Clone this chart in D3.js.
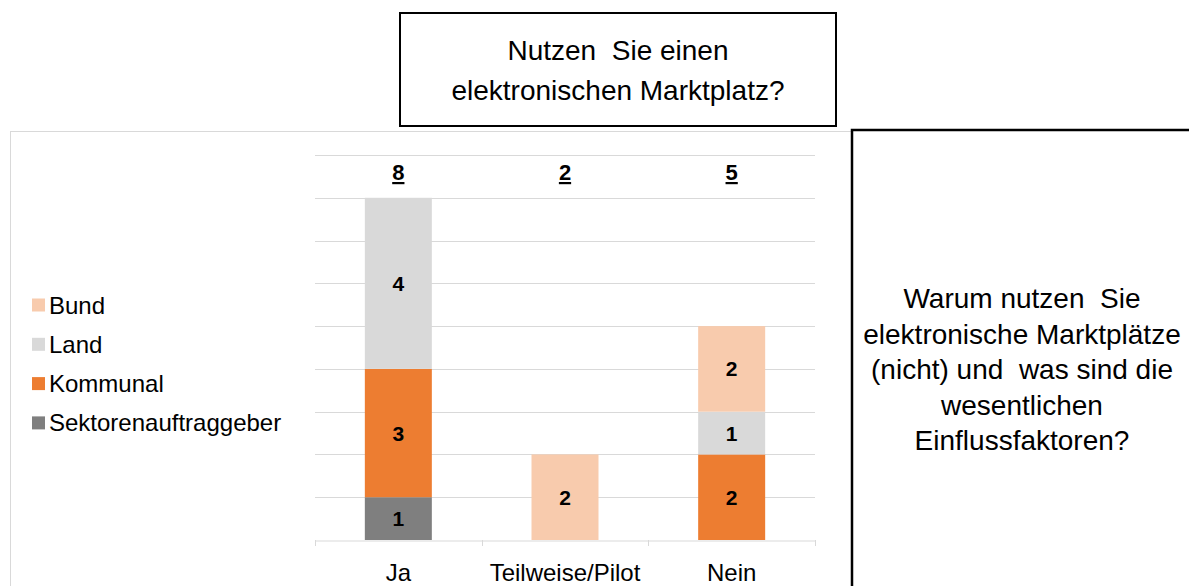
<!DOCTYPE html>
<html>
<head>
<meta charset="utf-8">
<script src="https://cdn.jsdelivr.net/npm/d3@7"></script>
<style>
  body { margin: 0; background: #fff; }
  svg { display: block; font-family: "Liberation Sans", Arial, sans-serif; }
</style>
</head>
<body>
<script>
// categories and series (stack order bottom -> top)
const categories = ["Ja", "Teilweise/Pilot", "Nein"];
const seriesNames = ["Sektorenauftraggeber", "Kommunal", "Land", "Bund"];
const sektoren = [1, 0, 0];
const kommunal = [3, 0, 2];
const land = [4, 0, 1];
const bund = [0, 2, 2];
const colors = ["#7f7f7f", "#ed7d31", "#d9d9d9", "#f8cbad"];
const legendOrder = ["Bund", "Land", "Kommunal", "Sektorenauftraggeber"];
const yTicks = [0, 1, 2, 3, 4, 5, 6, 7, 8, 9];

const rows = categories.map((c, i) => ({
  cat: c,
  Sektorenauftraggeber: sektoren[i],
  Kommunal: kommunal[i],
  Land: land[i],
  Bund: bund[i]
}));
const totals = rows.map(r => seriesNames.reduce((s, k) => s + r[k], 0));

const W = 1189, H = 586;
const svg = d3.select("body").append("svg").attr("width", W).attr("height", H);

// chart frame
svg.append("rect")
  .attr("x", 10.5).attr("y", 131.5).attr("width", 880).attr("height", 480)
  .attr("fill", "#fff").attr("stroke", "#d9d9d9").attr("stroke-width", 1);

const xb = d3.scaleBand().domain(categories).range([315, 815]);
const y = d3.scaleLinear().domain([0, 9]).range([540, 155]);
const color = d3.scaleOrdinal().domain(seriesNames).range(colors);

// gridlines
svg.append("g")
  .selectAll("line").data(yTicks.slice(1)).join("line")
  .attr("x1", 315).attr("x2", 815)
  .attr("y1", d => Math.round(y(d)) + 0.5).attr("y2", d => Math.round(y(d)) + 0.5)
  .attr("stroke", "#d9d9d9").attr("stroke-width", 1);

// stacked bars
const stacked = d3.stack().keys(seriesNames)(rows);
const bw = 67;
const layers = svg.append("g").selectAll("g").data(stacked).join("g")
  .attr("fill", d => color(d.key));
layers.selectAll("rect").data(d => d.filter(p => p[1] > p[0])).join("rect")
  .attr("x", d => xb(d.data.cat) + xb.bandwidth() / 2 - bw / 2)
  .attr("width", bw)
  .attr("y", d => y(d[1]))
  .attr("height", d => y(d[0]) - y(d[1]));

// value labels
layers.selectAll("text").data(d => d.filter(p => p[1] > p[0])).join("text")
  .attr("x", d => xb(d.data.cat) + xb.bandwidth() / 2)
  .attr("y", d => (y(d[0]) + y(d[1])) / 2 + 7.5)
  .attr("text-anchor", "middle")
  .attr("font-size", 21).attr("font-weight", "bold").attr("fill", "#000")
  .text(d => d[1] - d[0]);

// x axis
const ax = svg.append("g").attr("transform", "translate(0,540.5)")
  .call(d3.axisBottom(xb).tickSize(0).tickPadding(0));
ax.select(".domain").attr("stroke", "#d9d9d9");
ax.selectAll(".tick text").remove();
// category separators
svg.append("g").selectAll("line")
  .data([315, 815].concat(categories.slice(1).map(c => xb(c))))
  .join("line")
  .attr("x1", d => Math.round(d) + 0.5).attr("x2", d => Math.round(d) + 0.5)
  .attr("y1", 540).attr("y2", 546)
  .attr("stroke", "#d9d9d9");
svg.append("g").selectAll("text").data(categories).join("text")
  .attr("x", d => xb(d) + xb.bandwidth() / 2)
  .attr("y", 581)
  .attr("text-anchor", "middle")
  .attr("font-size", 24).attr("fill", "#000")
  .text(d => d);

// totals on top, underlined
svg.append("g").selectAll("text").data(totals).join("text")
  .attr("x", (d, i) => xb(categories[i]) + xb.bandwidth() / 2)
  .attr("y", 180)
  .attr("text-anchor", "middle")
  .attr("font-size", 22).attr("font-weight", "bold")
  .attr("text-decoration", "underline")
  .text(d => d);

// legend
const lg = svg.append("g").selectAll("g").data(legendOrder).join("g")
  .attr("transform", (d, i) => `translate(32,${305 + i * 39.3})`);
lg.append("rect").attr("x", 0).attr("y", -6.5).attr("width", 13).attr("height", 13)
  .attr("fill", d => color(d));
lg.append("text").attr("x", 17).attr("y", 8.5)
  .attr("font-size", 24).attr("fill", "#000").text(d => d);

// title box
svg.append("rect").attr("x", 400).attr("y", 13).attr("width", 436).attr("height", 113)
  .attr("fill", "#fff").attr("stroke", "#000").attr("stroke-width", 2);
svg.append("text").attr("text-anchor", "middle").attr("font-size", 28)
  .selectAll("tspan").data(["Nutzen  Sie einen", "elektronischen Marktplatz?"]).join("tspan")
  .attr("x", 618).attr("y", (d, i) => 60 + i * 40)
  .style("white-space", "pre")
  .text(d => d);

// right box
svg.append("rect").attr("x", 852).attr("y", 130).attr("width", 400).attr("height", 500)
  .attr("fill", "#fff").attr("stroke", "#000").attr("stroke-width", 2.5);
svg.append("text").attr("text-anchor", "middle").attr("font-size", 28)
  .selectAll("tspan")
  .data(["Warum nutzen  Sie", "elektronische Marktplätze", "(nicht) und  was sind die", "wesentlichen", "Einflussfaktoren?"])
  .join("tspan")
  .attr("x", 1022).attr("y", (d, i) => 308 + i * 35.5)
  .style("white-space", "pre")
  .text(d => d);
</script>
</body>
</html>
